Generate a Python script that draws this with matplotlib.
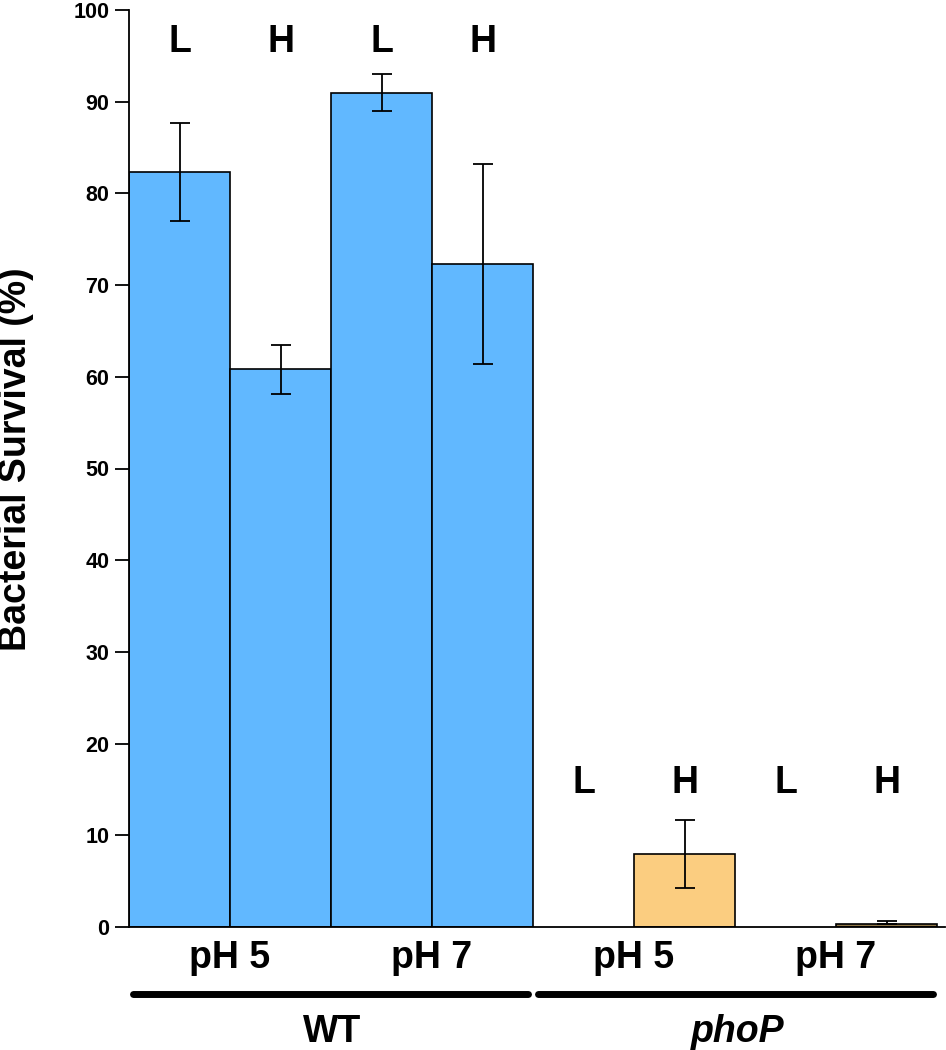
import matplotlib
matplotlib.use("Agg")
import matplotlib.pyplot as plt
import matplotlib.transforms as mtransforms

plt.rcParams['font.family'] = ['Liberation Sans', 'DejaVu Sans']

# Data
conditions = ["L", "H", "L", "H", "L", "H", "L", "H"]
ph_labels = ["pH 5", "pH 7", "pH 5", "pH 7"]
groups = ["WT", "phoP"]
values = [82.3, 60.8, 91.0, 72.3, 0.0, 8.0, 0.0, 0.3]
err_upper = [87.7, 63.5, 93.0, 83.2, None, 11.7, None, 0.6]
err_lower = [77.0, 58.1, 89.0, 61.4, None, 4.3, None, 0.3]
bar_colors = ["#61b8ff"] * 4 + ["#fbcd80", "#fbcd80", "#fbcd80", "#8f7748"]

fig = plt.figure(figsize=(9.46, 10.5), dpi=100)
ax = fig.add_axes([129 / 946, 1 - 927 / 1050, (945 - 129) / 946, (927 - 10) / 1050])

x = list(range(len(values)))
for xi, v, c in zip(x, values, bar_colors):
    if v > 0:
        ax.bar(xi, v, width=1.0, color=c, edgecolor="black", linewidth=1.2, zorder=2)

for xi, v, up, lo in zip(x, values, err_upper, err_lower):
    if up is None:
        continue
    ax.errorbar(xi, v, yerr=[[v - lo], [up - v]], fmt="none", ecolor="black",
                elinewidth=1.3, capsize=7.5, capthick=1.3, zorder=3)

# L/H labels
for xi, lab in zip(x, conditions):
    y = 95.4 if xi < 4 else 14.6
    ax.text(xi, y, lab, ha="center", va="baseline", fontsize=27, fontweight="bold")

ax.set_xlim(-0.5, -0.5 + 816 / 101)
ax.set_ylim(0, 100)
ax.set_yticks(range(0, 101, 10))
ax.tick_params(axis="y", direction="out", length=10, width=1.3, labelsize=15.5, pad=4)
for lab in ax.get_yticklabels():
    lab.set_fontweight("bold")
ax.set_xticks([])
ax.spines["top"].set_visible(False)
ax.spines["right"].set_visible(False)
ax.spines["left"].set_linewidth(1.3)
ax.spines["bottom"].set_linewidth(1.3)

fig.text(16 / 946, 1 - 459.5 / 1050, "Bacterial Survival (%)", rotation=90,
         ha="center", va="center", fontsize=27, fontweight="bold")

trans = mtransforms.blended_transform_factory(ax.transData, ax.transAxes)
ph_x = [0.5, 2.5, 4.5, 6.5]
for px, lab in zip(ph_x, ph_labels):
    ax.text(px, -(968 - 927) / 917, lab, transform=trans, ha="center", va="baseline",
            fontsize=27, fontweight="bold")

group_ranges = [(-0.46, 3.45), (3.55, 7.46)]
for (g0, g1), g in zip(group_ranges, groups):
    ax.plot([g0, g1], [-0.073, -0.073], transform=trans, color="black",
            linewidth=5, solid_capstyle="round", clip_on=False)
    ax.text((g0 + g1) / 2 + 0.02, -(1042 - 927) / 917, g, transform=trans, ha="center",
            va="baseline", fontsize=27, fontweight="bold",
            style="italic" if g == "phoP" else "normal")

fig.savefig("out.png", dpi=100)
